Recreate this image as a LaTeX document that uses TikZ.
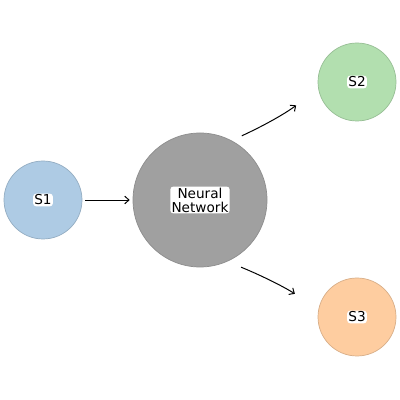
\documentclass[tikz,border=0pt]{standalone}
\usepackage{fontspec}
\setmainfont{DejaVu Sans}
\usetikzlibrary{positioning,arrows.meta}
\definecolor{sblue}{HTML}{AECBE4}
\definecolor{sgreen}{HTML}{B2DFAF}
\definecolor{sorange}{HTML}{FECDA0}
\definecolor{nngray}{HTML}{A0A0A0}

\begin{document}
\begin{tikzpicture}[
  font=\fontsize{9.7}{11.4}\selectfont,
  halo/.style={fill=white, rounded corners=2pt, inner sep=0.8pt, align=center},
  state/.style={circle, draw=#1!85!black, fill=#1, line width=0.5pt,
                minimum size=1.95cm, inner sep=0pt},
  net/.style={circle, draw=nngray!88!black, fill=nngray, line width=0.5pt,
              minimum size=3.35cm, inner sep=0pt},
  arr/.style={-{Straight Barb[length=3pt,width=5.5pt]}, line width=0.7pt},
]
\useasboundingbox (0,0) rectangle (10,10);
\node[state=sblue] (s1) at (1.075,5.0) {};
\node[net] (nn) at (5.0,5.0) {};
\node[state=sgreen] (s2) at (8.925,7.95) {};
\node[state=sorange] (s3) at (8.925,2.075) {};
% labels with white halo
\node[halo] (s1t) at (s1) {S1};
\node[halo] (nnt) at (nn) {Neural\\[-1.5pt]Network};
\node[halo] (s2t) at (s2) {S2};
\node[halo] (s3t) at (s3) {S3};
% connectors
\draw[arr, shorten <=0.075cm, shorten >=0.075cm] (s1.east) -- (nn.west);
\draw[arr, shorten <=0.28cm, shorten >=0.69cm] (nn.62) to[bend right=6] (s2.190);
\draw[arr, shorten <=0.37cm, shorten >=0.70cm] (nn.294) to[bend left=5] (s3.168);
\end{tikzpicture}
\end{document}
